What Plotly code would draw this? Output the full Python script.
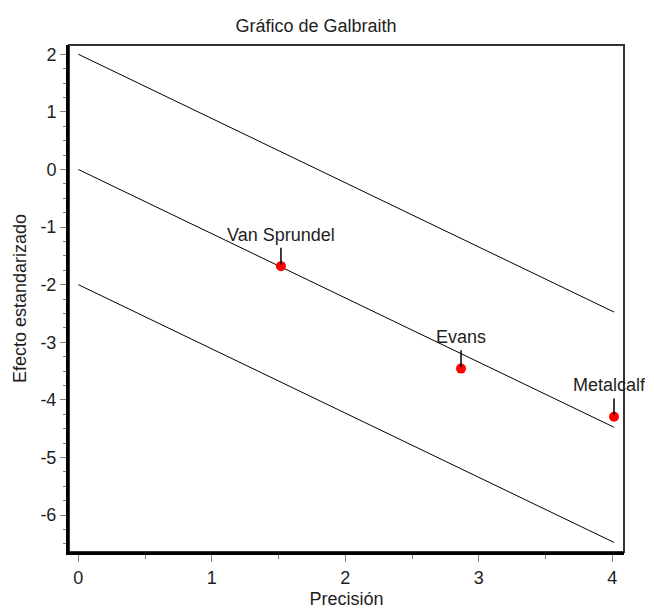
import plotly.graph_objects as go

# Data
studies = ["Van Sprundel", "Evans", "Metalcalfe"]
precision = [1.518, 2.867, 4.013]
std_effect = [-1.679, -3.458, -4.295]

x_ticks = [0, 1, 2, 3, 4]
y_ticks = [2, 1, 0, -1, -2, -3, -4, -5, -6]

# Galbraith regression line through the origin and +/-2 bands
slope = sum(a * b for a, b in zip(precision, std_effect)) / sum(a * a for a in precision)
x_end = max(precision)

FONT = "Liberation Sans, Arial, sans-serif"
TXT = "#1e1e1e"

# layout geometry (pixels)
W, H = 654, 610
ML, MT, MB = 69, 45, 58
PLOT_R = 624          # right edge of framed plot
CLIP_R = 645          # right edge where labels are clipped
X_RANGE = [-0.070, 4.088]
Y_RANGE = [-6.642, 2.161]
dom_frac = (PLOT_R - ML) / (CLIP_R - ML)
X2_RANGE = [X_RANGE[0], X_RANGE[0] + (X_RANGE[1] - X_RANGE[0]) / dom_frac]

fig = go.Figure()

line_x, line_y = [], []
for off in (2, 0, -2):
    line_x += [0, x_end, None]
    line_y += [off, off + slope * x_end, None]
fig.add_trace(go.Scatter(x=line_x, y=line_y, mode="lines",
                         line=dict(color="black", width=1), hoverinfo="skip",
                         showlegend=False))

fig.add_trace(go.Scatter(x=precision, y=std_effect, mode="markers",
                         marker=dict(color="#ff0000", size=10, line=dict(width=0)),
                         showlegend=False))

# leader lines
lx, ly = [], []
for px, py in zip(precision, std_effect):
    lx += [px, px, None]
    ly += [py + 0.03, py + 0.32, None]
fig.add_trace(go.Scatter(x=lx, y=ly, mode="lines",
                         line=dict(color="black", width=1.5), hoverinfo="skip",
                         showlegend=False))

# labels on a wider overlay axis so they clip a bit beyond the frame
fig.add_trace(go.Scatter(x=precision, y=[v + 0.52 for v in std_effect],
                         xaxis="x2", yaxis="y",
                         mode="text", text=studies, textposition="middle center",
                         textfont=dict(family=FONT, size=18, color=TXT),
                         cliponaxis=True, showlegend=False, hoverinfo="skip"))

fig.update_layout(
    width=W, height=H,
    margin=dict(l=ML, r=W - CLIP_R, t=MT, b=MB),
    paper_bgcolor="white", plot_bgcolor="rgba(0,0,0,0)",
    font=dict(family=FONT, size=18, color=TXT),
    title=dict(text="Gráfico de Galbraith", x=(316 - ML) / (CLIP_R - ML), xref="paper",
               xanchor="center", y=0.958, yref="container", yanchor="middle",
               font=dict(family=FONT, size=18, color=TXT)),
    shapes=[dict(type="rect", xref="x domain", yref="y domain", x0=0, x1=1, y0=0, y1=1,
                 line=dict(color="#333333", width=2), layer="below")],
    xaxis2=dict(domain=[0, 1], anchor="y", range=X2_RANGE, visible=False,
                showgrid=False, zeroline=False, automargin=False, fixedrange=True),
)

fig.layout.xaxis.update(
    domain=[0, dom_frac], automargin=False,
    range=X_RANGE, tickvals=x_ticks, ticktext=[str(v) for v in x_ticks],
    showgrid=False, zeroline=False,
    showline=True, linecolor="black", linewidth=3,
    ticks="outside", ticklen=7, tickwidth=1, tickcolor="#808080",
    minor=dict(dtick=0.5, ticks="outside", ticklen=4, tickwidth=1, tickcolor="#808080", showgrid=False),
    tickfont=dict(family=FONT, size=18, color=TXT),
    title=dict(text="Precisión", font=dict(family=FONT, size=18, color=TXT), standoff=6),
)
fig.layout.yaxis.update(
    automargin=False,
    range=Y_RANGE, tickvals=y_ticks, ticktext=[str(v) for v in y_ticks],
    showgrid=False, zeroline=False,
    showline=True, linecolor="black", linewidth=3,
    ticks="outside", ticklen=6, tickwidth=1, tickcolor="#808080",
    minor=dict(dtick=0.25, ticks="outside", ticklen=3, tickwidth=1, tickcolor="#808080", showgrid=False),
    tickfont=dict(family=FONT, size=18, color=TXT),
    title=dict(text="Efecto estandarizado", font=dict(family=FONT, size=18, color=TXT), standoff=10),
)

fig.write_html("out.html")
